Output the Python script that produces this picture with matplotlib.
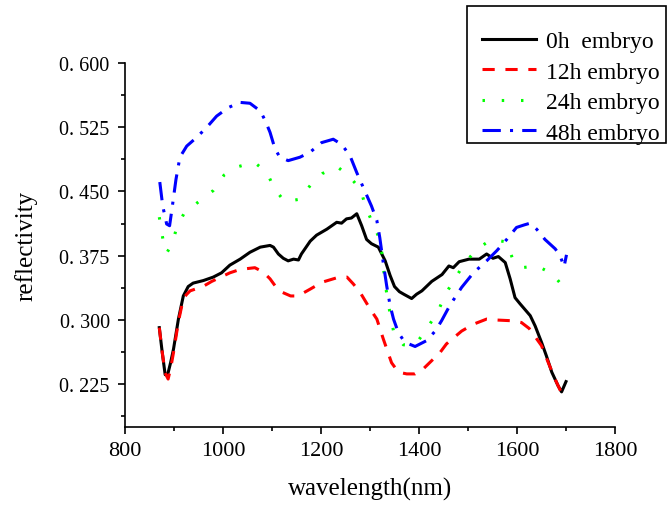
import numpy as np
import matplotlib
matplotlib.use('Agg')
import matplotlib.pyplot as plt
from matplotlib.ticker import MultipleLocator, FixedLocator
from matplotlib.patches import Rectangle

plt.rcParams['font.family'] = ['Liberation Serif', 'DejaVu Serif']

# 0h embryo
wl_0h = [870, 876, 882, 887, 893, 899, 909, 919, 929, 939, 960, 980, 997, 1014, 1035,
         1055, 1076, 1096, 1103, 1113, 1123, 1133, 1144, 1154, 1160, 1178, 1191, 1212,
         1232, 1242, 1252, 1262, 1273, 1283, 1293, 1303, 1317, 1331, 1341, 1350, 1360,
         1369, 1385, 1395, 1406, 1426, 1447, 1461, 1470, 1482, 1502, 1523, 1538, 1551,
         1562, 1576, 1586, 1596, 1606, 1627, 1637, 1650, 1660, 1671, 1684, 1691, 1700]
r_0h = [0.291, 0.262, 0.236, 0.236, 0.250, 0.266, 0.301, 0.328, 0.339, 0.343, 0.346,
        0.350, 0.355, 0.364, 0.371, 0.379, 0.385, 0.387, 0.385, 0.377, 0.372, 0.369,
        0.371, 0.370, 0.377, 0.392, 0.399, 0.406, 0.414, 0.413, 0.418, 0.419, 0.424,
        0.410, 0.394, 0.389, 0.385, 0.369, 0.352, 0.339, 0.333, 0.330, 0.325, 0.330,
        0.334, 0.345, 0.353, 0.363, 0.361, 0.368, 0.371, 0.371, 0.377, 0.372, 0.374,
        0.367, 0.348, 0.326, 0.319, 0.305, 0.293, 0.274, 0.258, 0.239, 0.223, 0.216,
        0.228]

# 12h embryo
wl_12h = [870, 876, 882, 888, 893, 899, 909, 919, 926, 933, 959, 977, 1014, 1035, 1065,
          1082, 1096, 1110, 1122, 1138, 1153, 1178, 1202, 1231, 1253, 1266, 1280, 1300,
          1314, 1327, 1344, 1358, 1375, 1392, 1409, 1443, 1456, 1487, 1511, 1538, 1555,
          1592, 1609, 1625, 1640, 1650, 1664, 1680, 1693, 1700]
r_12h = [0.291, 0.262, 0.238, 0.231, 0.243, 0.262, 0.298, 0.325, 0.330, 0.334, 0.339,
         0.345, 0.355, 0.359, 0.361, 0.356, 0.348, 0.337, 0.332, 0.328, 0.328, 0.336,
         0.344, 0.349, 0.350, 0.342, 0.332, 0.313, 0.301, 0.278, 0.250, 0.239, 0.237,
         0.237, 0.243, 0.262, 0.272, 0.287, 0.295, 0.301, 0.300, 0.299, 0.297, 0.290,
         0.278, 0.270, 0.250, 0.228, 0.212, 0.215]

# 24h embryo
wl_24h = [870, 878, 885, 897, 905, 921, 948, 980, 1002, 1031, 1064, 1090, 1104, 1126,
          1157, 1178, 1203, 1233, 1259, 1281, 1290, 1303, 1317, 1324, 1331, 1341, 1348,
          1368, 1385, 1400, 1422, 1441, 1455, 1473, 1494, 1519, 1548, 1579, 1590, 1609,
          1641, 1672, 1691, 1700]
r_24h = [0.420, 0.392, 0.378, 0.390, 0.407, 0.425, 0.437, 0.451, 0.469, 0.479, 0.484,
         0.472, 0.454, 0.438, 0.441, 0.457, 0.471, 0.479, 0.467, 0.452, 0.434, 0.416,
         0.398, 0.379, 0.342, 0.307, 0.287, 0.271, 0.270, 0.277, 0.295, 0.313, 0.331,
         0.348, 0.367, 0.383, 0.394, 0.391, 0.373, 0.361, 0.363, 0.354, 0.341, 0.337]

# 48h embryo
wl_48h = [871, 877, 885, 891, 895, 904, 912, 926, 946, 967, 987, 1011, 1035, 1055, 1076,
          1086, 1096, 1106, 1116, 1133, 1157, 1178, 1201, 1225, 1242, 1259, 1273, 1286,
          1303, 1314, 1320, 1327, 1334, 1341, 1348, 1358, 1371, 1392, 1416, 1433, 1446,
          1463, 1487, 1511, 1538, 1559, 1579, 1599, 1615, 1627, 1640, 1657, 1678, 1688,
          1696, 1701]
r_48h = [0.461, 0.433, 0.412, 0.410, 0.426, 0.464, 0.490, 0.503, 0.513, 0.525, 0.538,
         0.548, 0.554, 0.553, 0.544, 0.533, 0.519, 0.500, 0.490, 0.486, 0.490, 0.496,
         0.507, 0.511, 0.505, 0.492, 0.472, 0.455, 0.433, 0.416, 0.396, 0.367, 0.340,
         0.317, 0.301, 0.285, 0.274, 0.269, 0.276, 0.287, 0.299, 0.317, 0.338, 0.355,
         0.369, 0.381, 0.394, 0.408, 0.411, 0.413, 0.406, 0.394, 0.383, 0.375, 0.362,
         0.376]

labels = ['0h  embryo', '12h embryo', '24h embryo', '48h embryo']
y_ticks = [0.225, 0.300, 0.375, 0.450, 0.525, 0.600]
y_tick_labels = ['0. 225', '0. 300', '0. 375', '0. 450', '0. 525', '0. 600']

W, H = 668, 506
fig = plt.figure(figsize=(W / 100, H / 100), dpi=100)
ax = fig.add_axes([125 / W, 1 - 428 / H, 490 / W, 364 / H])

ax.plot(wl_0h, r_0h, color='black', lw=2.2, ls='-', label=labels[0])
ax.plot(wl_12h, r_12h, color='red', lw=2.2, ls=(0, (4, 3.5)), label=labels[1])
ax.plot(wl_24h, r_24h, color='#00ff00', lw=2.2, ls=(0, (0.8, 5.5)), label=labels[2])
ax.plot(wl_48h, r_48h, color='blue', lw=2.2, ls=(0, (6, 3, 1, 3)), label=labels[3])

ax.set_xlim(800, 1800)
ax.set_ylim(0.175, 0.6)
ax.xaxis.set_major_locator(MultipleLocator(200))
ax.xaxis.set_minor_locator(MultipleLocator(100))
ax.yaxis.set_major_locator(FixedLocator(y_ticks))
ax.set_yticklabels(y_tick_labels)
ax.yaxis.set_minor_locator(FixedLocator([0.1875, 0.2625, 0.3375, 0.4125, 0.4875, 0.5625]))

ax.spines['top'].set_visible(False)
ax.spines['right'].set_visible(False)
for s in ['left', 'bottom']:
    ax.spines[s].set_linewidth(1.2)
ax.tick_params(which='major', direction='out', length=5, width=1.2)
ax.tick_params(which='minor', direction='out', length=3, width=1.2)
ax.tick_params(axis='x', which='major', labelsize=16, pad=5)
ax.tick_params(axis='y', which='major', labelsize=14.5, pad=6)

ax.set_xlabel('wavelength(nm)', fontsize=18, va='center')
ax.xaxis.set_label_coords(0.5, (428 - 489) / 364)
ax.set_ylabel('reflectivity', fontsize=18, va='center')
ax.yaxis.set_label_coords((26 - 125) / 490, 0.5)

# legend box drawn separately so the padding matches
fig.patches.append(Rectangle((467 / W, 1 - 144 / H), 199 / W, 137 / H,
                             transform=fig.transFigure, fill=False,
                             edgecolor='black', linewidth=1.2))
leg = fig.legend(loc='center left', bbox_to_anchor=(482 / W, 1 - 88 / H),
                 fontsize=17, frameon=False, handlelength=2.3, borderpad=0,
                 labelspacing=0.38, handletextpad=0.4, borderaxespad=0)

fig.savefig('out.png', dpi=100)
